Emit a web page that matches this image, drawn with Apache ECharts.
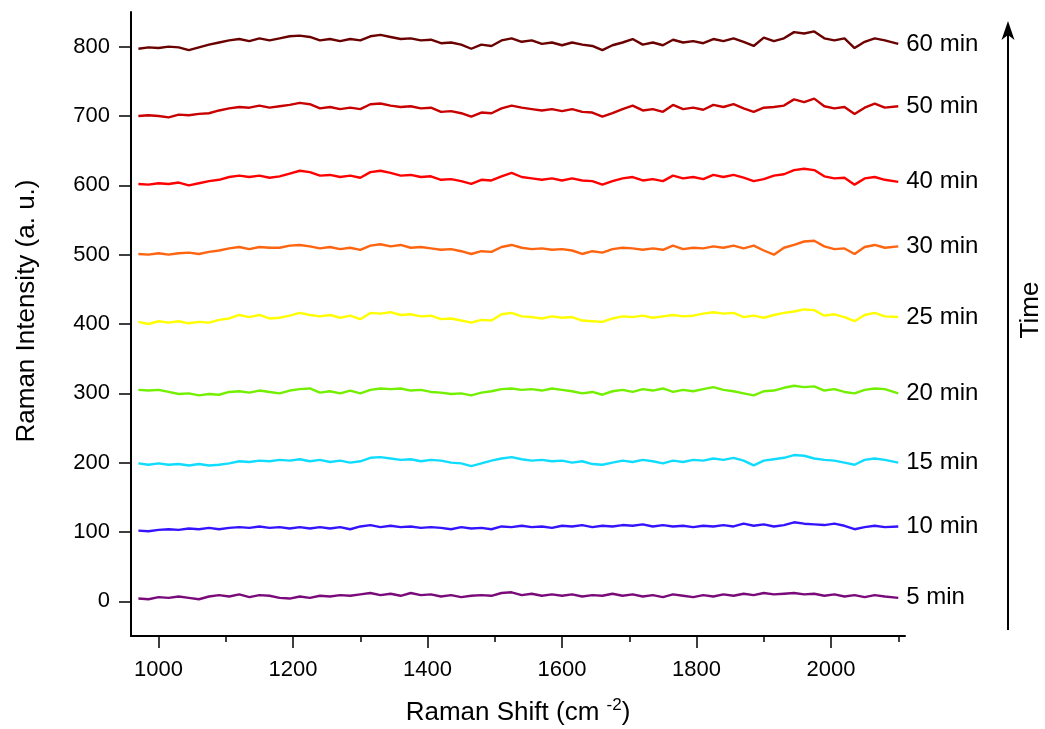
<!DOCTYPE html>
<html>
<head>
<meta charset="utf-8">
<script src="https://cdn.jsdelivr.net/npm/echarts@6/dist/echarts.min.js"></script>
<style>
html,body{margin:0;padding:0;background:#fff;}
#chart{width:1045px;height:729px;}
</style>
</head>
<body>
<div id="chart"></div>
<script>
// Raman shift positions (cm-1)
const shift = [970,985,1000,1015,1030,1045,1060,1075,1090,1105,1120,1135,1150,1165,1180,1195,1210,1225,1240,1255,1270,1285,1300,1315,1330,1345,1360,1375,1390,1405,1420,1435,1450,1465,1480,1495,1510,1525,1540,1555,1570,1585,1600,1615,1630,1645,1660,1675,1690,1705,1720,1735,1750,1765,1780,1795,1810,1825,1840,1855,1870,1885,1900,1915,1930,1945,1960,1975,1990,2005,2020,2035,2050,2065,2080,2100];

const min5  = [4,3,6,5,7,5,3,7,9,7,10,6,9,8,5,4,7,5,8,7,9,8,10,12,9,11,8,12,9,10,7,9,6,8,9,8,12,13,9,11,8,10,8,10,7,9,8,11,8,10,7,9,6,10,8,6,9,7,10,8,11,9,12,10,11,12,10,11,8,10,7,9,6,9,7,5];
const min10 = [102,101,103,104,103,105,104,106,104,106,107,106,108,106,107,105,107,105,107,105,107,104,108,110,107,109,107,108,106,107,106,104,107,105,106,104,108,107,109,107,108,106,109,108,110,107,109,108,110,109,111,108,110,108,109,107,109,108,110,108,112,109,111,108,110,114,112,111,110,112,109,104,107,109,107,108];
const min15 = [199,197,199,197,198,196,198,196,197,199,202,201,203,202,204,203,205,202,204,201,203,200,202,207,208,206,204,205,202,204,203,200,199,195,199,203,206,208,205,203,204,202,203,200,202,198,197,200,203,201,204,202,199,203,201,204,203,206,204,207,203,196,203,205,207,211,210,206,204,203,200,197,204,206,204,200];
const min20 = [305,304,305,302,299,300,297,299,298,302,303,301,304,302,300,304,306,307,301,303,300,304,300,305,307,306,307,304,305,302,301,299,300,297,301,303,306,307,305,306,304,307,305,303,300,302,298,303,305,302,306,304,307,302,305,303,306,309,305,303,300,297,303,304,308,311,309,310,304,306,302,300,305,307,306,300];
const min25 = [403,400,404,402,404,401,403,402,406,408,413,410,413,408,409,412,416,413,411,413,409,412,407,416,415,417,413,414,411,412,407,408,405,402,406,405,414,416,411,410,408,411,409,410,405,404,403,408,411,410,412,409,411,413,411,412,415,417,415,416,410,412,409,413,416,418,421,420,412,414,410,404,413,416,411,410];
const min30 = [501,500,502,500,502,503,501,504,506,509,511,508,511,510,510,513,514,512,509,511,508,510,507,513,515,512,514,510,511,509,507,508,505,501,505,504,511,514,510,508,509,507,508,506,501,505,503,508,510,509,507,509,507,513,508,510,509,512,510,513,509,513,506,500,510,514,519,520,512,508,509,501,511,514,510,512];
const min40 = [602,601,603,602,604,600,603,606,608,612,614,612,614,611,613,617,621,619,614,615,612,614,611,619,621,618,614,615,612,613,608,609,606,602,608,607,613,618,612,610,608,610,607,610,607,606,601,606,610,612,607,609,606,614,610,612,609,615,612,615,611,606,609,614,616,622,624,622,613,610,611,601,610,612,608,605];
const min50 = [700,701,700,698,702,701,703,704,708,711,713,712,715,712,714,716,719,717,711,713,710,712,710,717,718,715,713,714,711,712,706,707,704,699,705,704,711,715,712,710,708,710,707,710,706,705,699,704,710,715,708,710,706,716,710,712,709,716,713,717,711,706,712,713,715,724,720,725,714,711,713,703,712,718,712,714];
const min60 = [797,799,798,800,799,795,799,803,806,809,811,808,812,809,812,815,816,814,809,811,808,811,809,815,817,814,811,812,809,810,805,806,803,797,803,801,809,812,807,809,804,806,802,806,803,801,795,802,806,811,803,806,802,810,806,808,805,811,808,812,807,801,813,808,812,821,819,822,812,809,812,798,807,812,809,804];

const seriesNames  = ['5 min','10 min','15 min','20 min','25 min','30 min','40 min','50 min','60 min'];
const seriesValues = [min5, min10, min15, min20, min25, min30, min40, min50, min60];
const seriesColors = ['#7a0a7a','#3414ff','#10dcff','#72f000','#ffff00','#ff6410','#ff0000','#c80000','#6a0000'];

const xMajorTicks = [1000,1200,1400,1600,1800,2000];
const xMinorTicks = [1100,1300,1500,1700,1900,2100];
const yTicks = [0,100,200,300,400,500,600,700,800];

const FONT = '"Liberation Sans", Arial, sans-serif';

const chart = echarts.init(document.getElementById('chart'), null, {renderer:'canvas'});

const series = seriesNames.map((name, i) => ({
  name: name,
  type: 'line',
  xAxisIndex: 0,
  yAxisIndex: 0,
  showSymbol: false,
  symbol: 'none',
  data: shift.map((x, j) => [x, seriesValues[i][j]]),
  lineStyle: { color: seriesColors[i], width: 2.4 },
  itemStyle: { color: seriesColors[i] },
  endLabel: {
    show: true,
    formatter: '{a}',
    color: '#000',
    fontSize: 24,
    fontFamily: FONT,
    distance: 8
  },
  emphasis: { disabled: true }
}));

const option = {
  animation: false,
  backgroundColor: '#fff',
  textStyle: { fontFamily: FONT },
  grid: { left: 131, right: 140, top: 12, bottom: 93, containLabel: false, outerBoundsMode: 'none' },
  xAxis: [{
    type: 'value',
    min: 959, max: 2110,
    position: 'bottom',
    axisLine: { show: true, onZero: false, lineStyle: { color: '#000', width: 2 } },
    axisTick: { show: true, inside: false, length: 12, customValues: xMajorTicks, lineStyle: { color: '#000', width: 1.5 } },
    axisLabel: { show: true, customValues: xMajorTicks, fontSize: 22, color: '#000', margin: 23, fontFamily: FONT, formatter: v => String(v) },
    splitLine: { show: false },
    name: 'Raman Shift (cm {sup|-2})',
    nameLocation: 'middle',
    nameGap: 61,
    nameTextStyle: {
      fontSize: 26, color: '#000', fontFamily: FONT, lineHeight: 32,
      rich: { sup: { fontSize: 17, color: '#000', fontFamily: FONT, verticalAlign: 'top', lineHeight: 17 } }
    }
  }, {
    type: 'value',
    min: 959, max: 2110,
    position: 'bottom',
    axisLine: { show: false, onZero: false },
    axisTick: { show: true, inside: false, length: 6, customValues: xMinorTicks, lineStyle: { color: '#000', width: 1.5 } },
    axisLabel: { show: false },
    splitLine: { show: false }
  }],
  yAxis: [{
    type: 'value',
    min: -50, max: 850,
    axisLine: { show: true, onZero: false, lineStyle: { color: '#000', width: 2 } },
    axisTick: { show: true, inside: false, length: 12, customValues: yTicks, lineStyle: { color: '#000', width: 1.5 } },
    axisLabel: { show: true, customValues: yTicks, fontSize: 22, color: '#000', margin: 21, fontFamily: FONT, formatter: v => String(v) },
    splitLine: { show: false },
    name: 'Raman Intensity (a. u.)',
    nameLocation: 'middle',
    nameGap: 91,
    nameRotate: 90,
    nameTextStyle: { fontSize: 26, color: '#000', fontFamily: FONT, padding: [0, 0, 0, 26] }
  }],
  graphic: [
    { type: 'line', shape: { x1: 1008, y1: 630, x2: 1008, y2: 32 }, style: { stroke: '#000', lineWidth: 2 }, silent: true },
    { type: 'polygon', shape: { points: [[1008, 21], [1001.5, 40], [1008, 35], [1014.5, 40]] }, style: { fill: '#000' }, silent: true },
    { type: 'text', x: 1031, y: 310, rotation: Math.PI / 2,
      style: { text: 'Time', fill: '#000', font: '26px "Liberation Sans", Arial, sans-serif', align: 'center', verticalAlign: 'middle', textAlign: 'center', textVerticalAlign: 'middle' }, silent: true }
  ],
  series: series
};

chart.setOption(option);
</script>
</body>
</html>
